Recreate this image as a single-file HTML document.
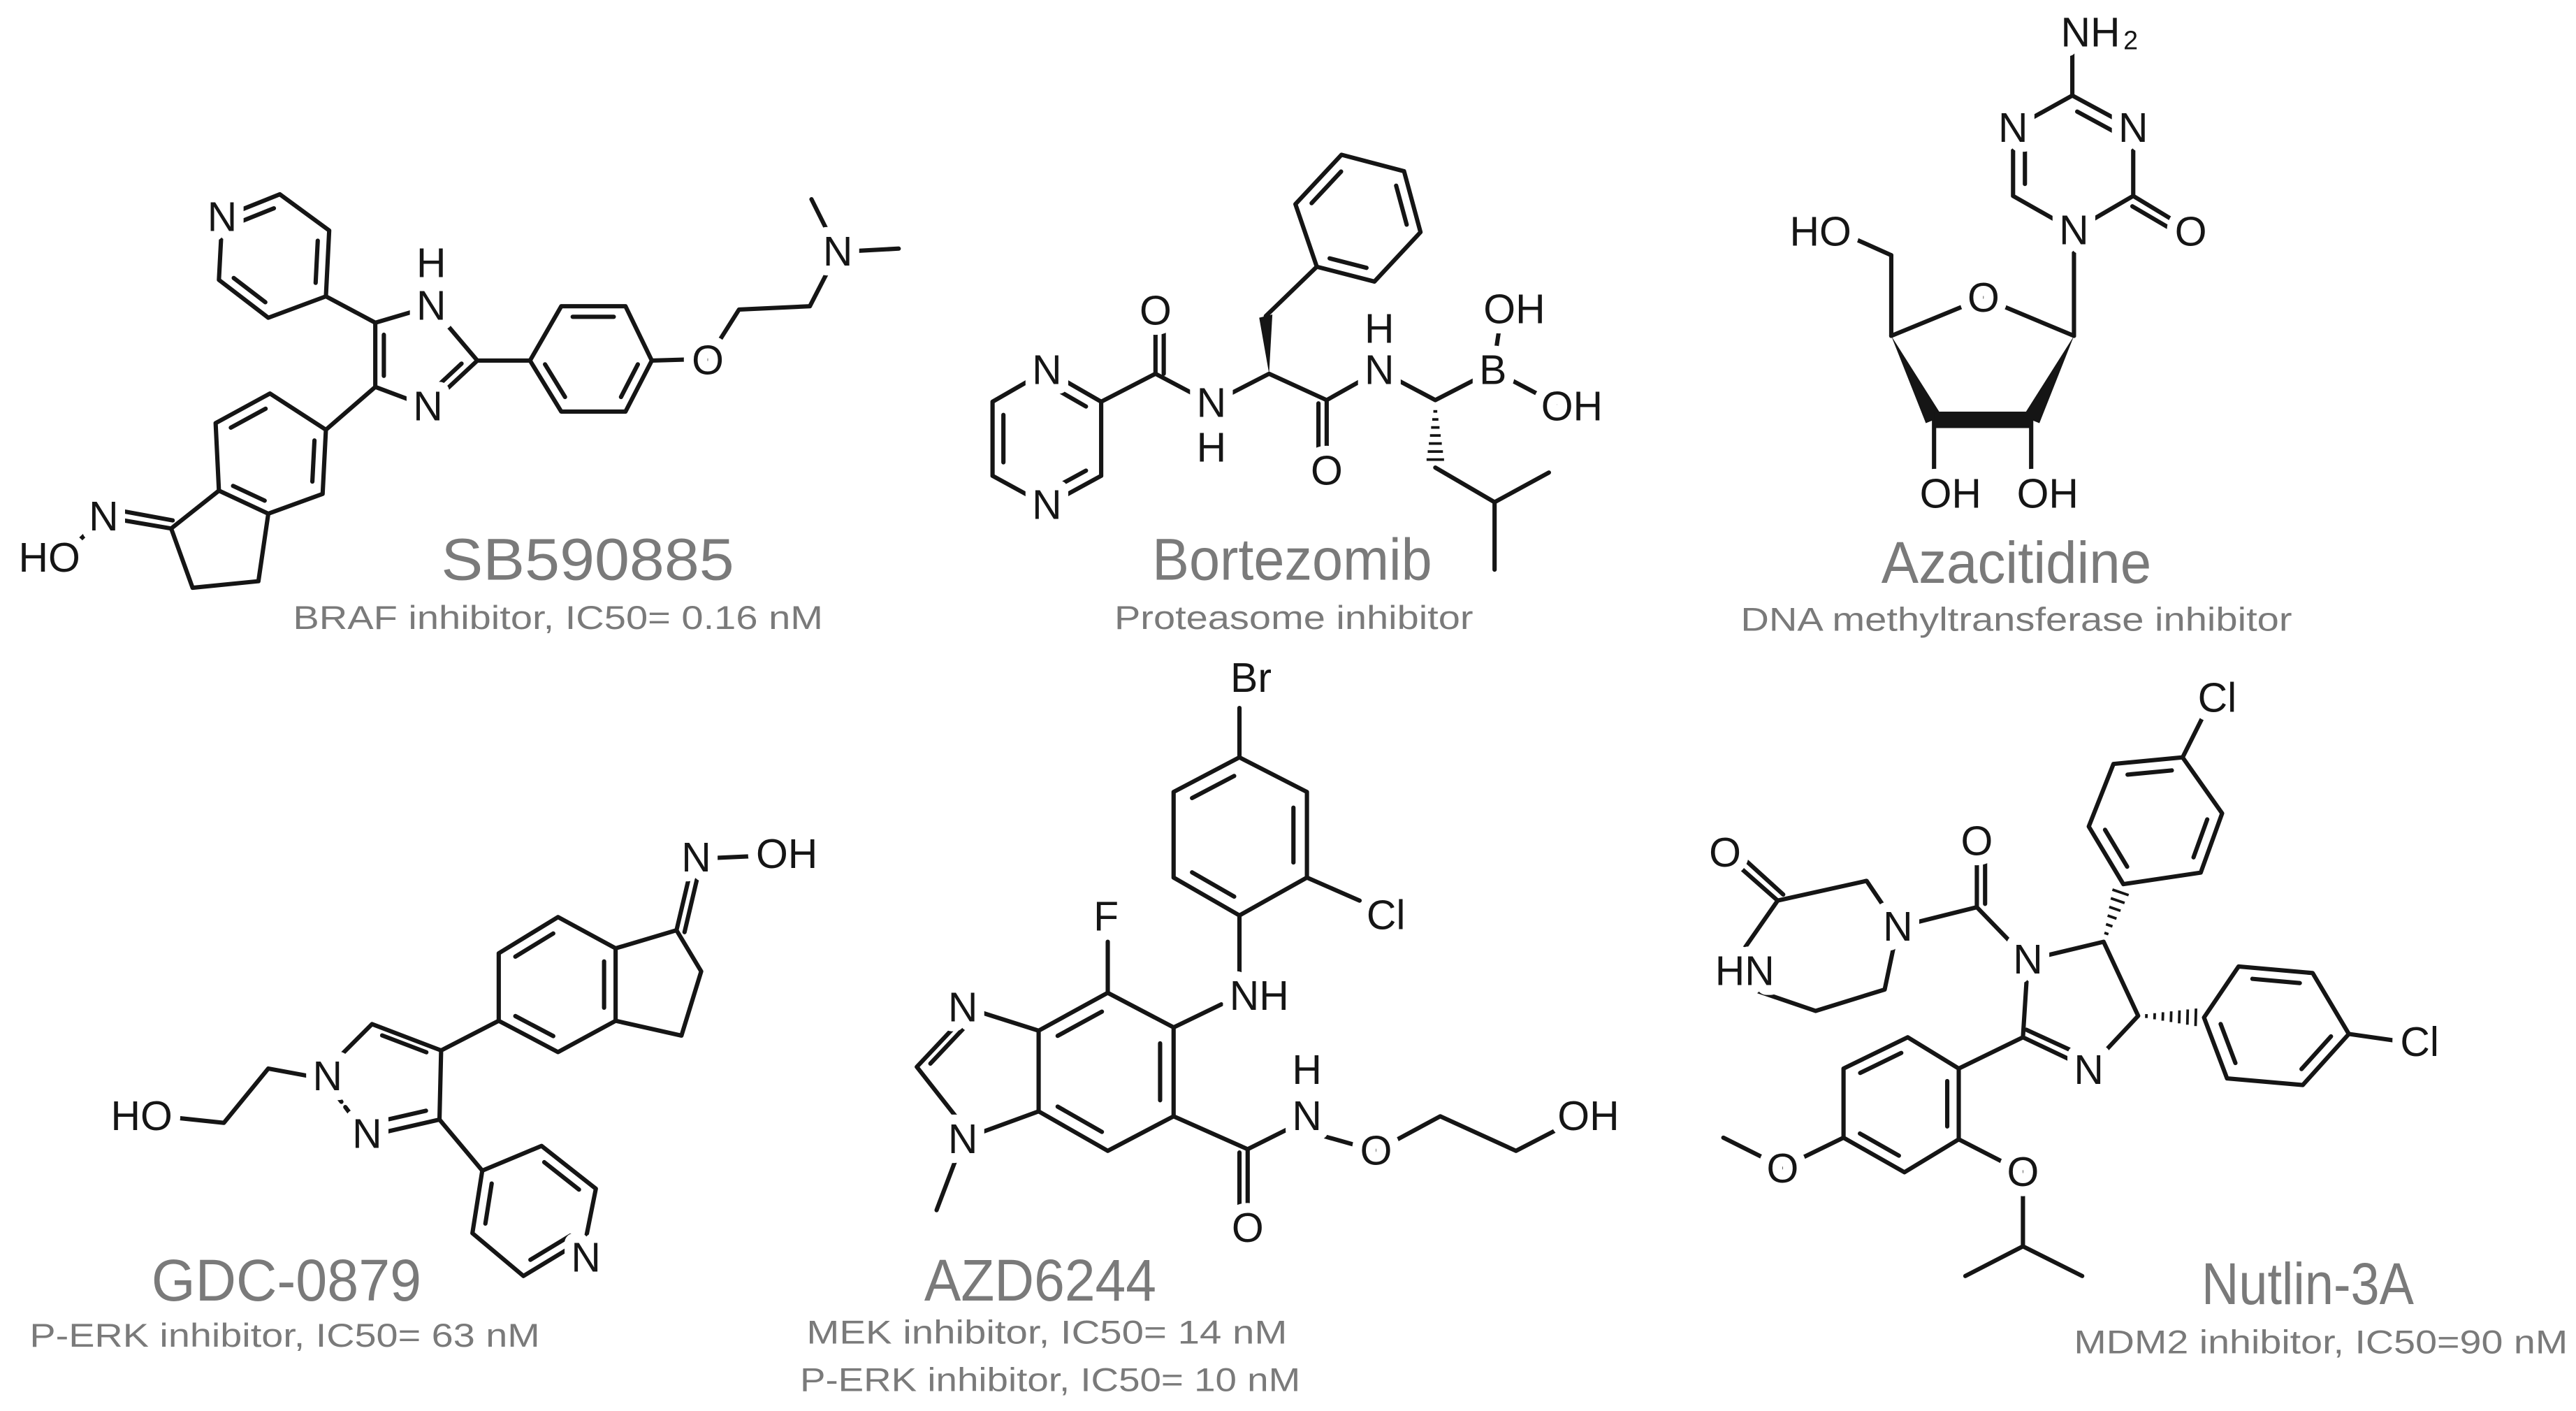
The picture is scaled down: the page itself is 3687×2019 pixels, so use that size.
<!DOCTYPE html>
<html><head><meta charset="utf-8">
<style>
html,body{margin:0;padding:0;background:#fff;}
svg{display:block;}
.b line,.b polyline,.b polygon{stroke:#151515;stroke-width:2.6;fill:none;stroke-linecap:round;stroke-linejoin:round;}
.a{font-family:"Liberation Sans",Arial,sans-serif;font-size:25px;fill:#151515;text-anchor:middle;dominant-baseline:central;stroke:#fff;stroke-width:12px;paint-order:stroke;stroke-linejoin:round;}
.n{font-family:"Liberation Sans",Arial,sans-serif;fill:#7a7a7a;text-anchor:middle;}
.n1{font-size:36px;}
.n2{font-size:20px;}
</style></head>
<body>
<svg id="s" width="3687" height="2019" viewBox="0 0 1565 857" preserveAspectRatio="none" xmlns="http://www.w3.org/2000/svg">
<g class="b" id="bonds">
<polygon points="135,132 170,118 200,140 198,180 163,193 133,170"/>
<line x1="198" y1="180" x2="228" y2="196"/>
<polygon points="228,196 262,186 290,219 260,247 228,235"/>
<line x1="290" y1="219" x2="322" y2="219"/>
<polygon points="322,219 341,186 380,186 396,219 380,250 341,250"/>
<polyline points="396,219 430,218 449,188 492,186 509,153"/>
<line x1="509" y1="153" x2="493" y2="121"/>
<line x1="509" y1="153" x2="546" y2="151"/>
<line x1="228" y1="235" x2="198" y2="261"/>
<polygon points="198,261 164,239 131,257 133,298 163,312 196,300"/>
<polyline points="133,298 104,321 117,357 157,353 163,312"/>
<line x1="104" y1="321" x2="63" y2="314"/>
<line x1="63" y1="314" x2="40" y2="336"/>
<polygon points="636,225 603,244 603,289 636,307 669,289 669,244"/>
<polyline points="669,244 702,227 736,245 771,227 806,243 838,225 872,243 907,225"/>
<line x1="702" y1="227" x2="702" y2="192"/>
<line x1="806" y1="243" x2="806" y2="283"/>
<line x1="838" y1="225" x2="838" y2="202"/>
<line x1="907" y1="225" x2="912" y2="192"/>
<line x1="907" y1="225" x2="945" y2="245"/>
<line x1="769" y1="192" x2="800" y2="162"/>
<polygon points="800,162 787,124 815,94 853,104 863,141 835,171"/>
<polyline points="872,284 908,305 941,287"/>
<line x1="908" y1="305" x2="908" y2="346"/>
<polygon points="1259,58 1296,78 1296,119 1260,140 1223,119 1223,78"/>
<line x1="1259" y1="58" x2="1259" y2="28"/>
<line x1="1296" y1="119" x2="1329" y2="139"/>
<line x1="1260" y1="140" x2="1260" y2="204"/>
<polyline points="1260,204 1205,181 1149,204"/>
<line x1="1149" y1="204" x2="1149" y2="155"/>
<line x1="1149" y1="155" x2="1120" y2="142"/>
<line x1="1175" y1="255" x2="1175" y2="292"/>
<line x1="1234" y1="255" x2="1234" y2="292"/>
<polyline points="108,679 136,682 163,649 190,654"/>
<line x1="205" y1="666" x2="214" y2="678" stroke-dasharray="4 4"/>
<polyline points="200,648 226,622 268,638 267,680 232,688"/>
<line x1="268" y1="638" x2="303" y2="620"/>
<polygon points="303,620 303,579 339,557 374,576 374,620 339,639"/>
<polyline points="374,576 411,565 426,590 414,629 374,620"/>
<line x1="411" y1="565" x2="420" y2="527"/>
<line x1="436" y1="521" x2="458" y2="520"/>
<line x1="267" y1="680" x2="293" y2="711"/>
<polygon points="293,711 329,696 362,722 356,752 318,775 287,749"/>
<polygon points="753,460 794,481 794,533 753,556 713,533 713,481"/>
<line x1="753" y1="460" x2="753" y2="430"/>
<line x1="794" y1="533" x2="826" y2="547"/>
<line x1="753" y1="556" x2="753" y2="594"/>
<line x1="742" y1="610" x2="713" y2="624"/>
<polygon points="673,603 713,624 713,678 673,699 631,675 631,626"/>
<line x1="673" y1="603" x2="673" y2="572"/>
<polyline points="631,626 590,613 557,648 590,690 631,675"/>
<line x1="580" y1="706" x2="569" y2="735"/>
<polyline points="713,678 758,698 794,680"/>
<line x1="758" y1="698" x2="758" y2="740"/>
<polyline points="804,690 836,699 875,678 921,699 950,684"/>
<polyline points="1057,580 1080,547 1134,535 1153,563"/>
<line x1="1080" y1="547" x2="1055" y2="525"/>
<polyline points="1062,600 1103,614 1145,601 1153,563"/>
<polyline points="1153,563 1201,551 1232,583"/>
<line x1="1201" y1="551" x2="1201" y2="516"/>
<polyline points="1232,583 1278,572 1299,617 1269,649 1229,630 1232,583"/>
<line x1="1229" y1="630" x2="1190" y2="649"/>
<polygon points="1190,649 1159,630 1120,649 1120,691 1157,712 1190,692"/>
<line x1="1120" y1="691" x2="1083" y2="709"/>
<line x1="1083" y1="709" x2="1047" y2="691"/>
<line x1="1190" y1="692" x2="1229" y2="712"/>
<line x1="1229" y1="712" x2="1229" y2="757"/>
<line x1="1229" y1="757" x2="1194" y2="775"/>
<line x1="1229" y1="757" x2="1265" y2="775"/>
<polygon points="1326,460 1350,494 1337,530 1290,537 1269,502 1284,464"/>
<line x1="1326" y1="460" x2="1340" y2="432"/>
<polygon points="1339,618 1360,587 1405,591 1427,628 1399,659 1353,655"/>
<line x1="1427" y1="628" x2="1455" y2="632"/>
</g>
<g id="extra" fill="#151515" stroke="none">
<polygon points="771,227 765,193 773,191"/>
<polygon points="1149,204 1170,257 1180,253"/>
<polygon points="1175,250 1234,250 1234,260 1175,260"/>
<polygon points="1260,204 1229,253 1239,257"/>
</g>
<g class="b" id="dbl"></g>
<g id="hash" stroke="#151515" stroke-width="1.6"></g>
<g>
<text class="a" x="135" y="132">N</text>
<text class="a" x="262" y="160">H</text>
<text class="a" x="262" y="186">N</text>
<text class="a" x="260" y="247">N</text>
<text class="a" x="430" y="219">O</text>
<text class="a" x="509" y="153">N</text>
<text class="a" x="63" y="314">N</text>
<text class="a" x="30" y="339">HO</text>
<text class="a" x="636" y="225">N</text>
<text class="a" x="636" y="307">N</text>
<text class="a" x="702" y="189">O</text>
<text class="a" x="736" y="245">N</text>
<text class="a" x="736" y="272">H</text>
<text class="a" x="806" y="286">O</text>
<text class="a" x="838" y="225">N</text>
<text class="a" x="838" y="200">H</text>
<text class="a" x="907" y="225">B</text>
<text class="a" x="920" y="188">OH</text>
<text class="a" x="955" y="247">OH</text>
<text class="a" x="1270" y="20">NH</text>
<text x="1290" y="30" font-family="Liberation Sans, Arial, sans-serif" font-size="16" fill="#151515">2</text>
<text class="a" x="1223" y="78">N</text>
<text class="a" x="1296" y="78">N</text>
<text class="a" x="1260" y="140">N</text>
<text class="a" x="1331" y="141">O</text>
<text class="a" x="1205" y="181">O</text>
<text class="a" x="1106" y="141">HO</text>
<text class="a" x="1185" y="300">OH</text>
<text class="a" x="1244" y="300">OH</text>
<text class="a" x="86" y="678">HO</text>
<text class="a" x="199" y="654">N</text>
<text class="a" x="223" y="689">N</text>
<text class="a" x="423" y="521">N</text>
<text class="a" x="478" y="519">OH</text>
<text class="a" x="356" y="764">N</text>
<text class="a" x="760" y="412">Br</text>
<text class="a" x="842" y="556">Cl</text>
<text class="a" x="765" y="605">NH</text>
<text class="a" x="672" y="557">F</text>
<text class="a" x="585" y="612">N</text>
<text class="a" x="585" y="692">N</text>
<text class="a" x="758" y="746">O</text>
<text class="a" x="794" y="678">N</text>
<text class="a" x="794" y="650">H</text>
<text class="a" x="836" y="699">O</text>
<text class="a" x="965" y="678">OH</text>
<text class="a" x="1048" y="518">O</text>
<text class="a" x="1060" y="590">HN</text>
<text class="a" x="1153" y="563">N</text>
<text class="a" x="1201" y="511">O</text>
<text class="a" x="1232" y="583">N</text>
<text class="a" x="1269" y="650">N</text>
<text class="a" x="1083" y="710">O</text>
<text class="a" x="1229" y="712">O</text>
<text class="a" x="1347" y="424">Cl</text>
<text class="a" x="1470" y="633">Cl</text>
</g>
<text class="n n1" x="357" y="352" textLength="178" lengthAdjust="spacingAndGlyphs">SB590885</text>
<text class="n n2" x="339" y="382" textLength="322" lengthAdjust="spacingAndGlyphs">BRAF inhibitor, IC50= 0.16 nM</text>
<text class="n n1" x="785" y="352" textLength="170" lengthAdjust="spacingAndGlyphs">Bortezomib</text>
<text class="n n2" x="786" y="382" textLength="218" lengthAdjust="spacingAndGlyphs">Proteasome inhibitor</text>
<text class="n n1" x="1225" y="354" textLength="164" lengthAdjust="spacingAndGlyphs">Azacitidine</text>
<text class="n n2" x="1225" y="383" textLength="335" lengthAdjust="spacingAndGlyphs">DNA methyltransferase inhibitor</text>
<text class="n n1" x="174" y="790" textLength="164" lengthAdjust="spacingAndGlyphs">GDC-0879</text>
<text class="n n2" x="173" y="818" textLength="310" lengthAdjust="spacingAndGlyphs">P-ERK inhibitor, IC50= 63 nM</text>
<text class="n n1" x="632" y="790" textLength="141" lengthAdjust="spacingAndGlyphs">AZD6244</text>
<text class="n n2" x="636" y="816" textLength="292" lengthAdjust="spacingAndGlyphs">MEK inhibitor, IC50= 14 nM</text>
<text class="n n2" x="638" y="845" textLength="304" lengthAdjust="spacingAndGlyphs">P-ERK inhibitor, IC50= 10 nM</text>
<text class="n n1" x="1402" y="792" textLength="129" lengthAdjust="spacingAndGlyphs">Nutlin-3A</text>
<text class="n n2" x="1410" y="822" textLength="300" lengthAdjust="spacingAndGlyphs">MDM2 inhibitor, IC50=90 nM</text>
</svg>
<script>
(function(){
var NS="http://www.w3.org/2000/svg";
var g=document.getElementById("dbl"), h=document.getElementById("hash");
function L(p,x1,y1,x2,y2){var l=document.createElementNS(NS,"line");l.setAttribute("x1",x1);l.setAttribute("y1",y1);l.setAttribute("x2",x2);l.setAttribute("y2",y2);p.appendChild(l);}
function inner(x1,y1,x2,y2,cx,cy){var k=0.2;var a1=x1+(cx-x1)*k,b1=y1+(cy-y1)*k,a2=x2+(cx-x2)*k,b2=y2+(cy-y2)*k;var dx=a2-a1,dy=b2-b1;L(g,a1+dx*0.1,b1+dy*0.1,a2-dx*0.1,b2-dy*0.1);}
function par(x1,y1,x2,y2,s){var dx=x2-x1,dy=y2-y1,len=Math.sqrt(dx*dx+dy*dy);var nx=-dy/len*5*s,ny=dx/len*5*s;L(g,x1+nx,y1+ny,x2+nx,y2+ny);}
var I=[
[135,132,170,118,166,155],[200,140,198,180,166,155],[163,193,133,170,166,155],
[228,196,228,235,254,217],[290,219,260,247,254,217],
[341,186,380,186,360,218],[396,219,380,250,360,218],[322,219,341,250,360,218],
[164,239,131,257,164,278],[133,298,163,312,164,278],[196,300,198,261,164,278],
[603,244,603,289,636,266],[636,225,669,244,636,266],[636,307,669,289,636,266],
[787,124,815,94,825,133],[853,104,863,141,825,133],[835,171,800,162,825,133],
[1259,58,1296,78,1259,99],[1223,119,1223,78,1259,99],
[226,622,268,638,240,650],[267,680,232,688,240,650],
[303,579,339,557,339,598],[374,576,374,620,339,598],[339,639,303,620,339,598],
[329,696,362,722,324,735],[356,752,318,775,324,735],[287,749,293,711,324,735],
[713,481,753,460,753,508],[794,481,794,533,753,508],[753,556,713,533,753,508],
[673,603,631,626,672,651],[713,624,713,678,672,651],[673,699,631,675,672,651],
[590,613,557,648,585,652],
[1159,630,1120,649,1155,670],[1120,691,1157,712,1155,670],[1190,692,1190,649,1155,670],
[1284,464,1326,460,1310,498],[1350,494,1337,530,1310,498],[1290,537,1269,502,1310,498],
[1360,587,1405,591,1384,623],[1427,628,1399,659,1384,623],[1353,655,1339,618,1384,623]
];
I.forEach(function(a){inner.apply(null,a);});
par(702,227,702,194,1);par(806,245,806,281,1);par(1298,121,1327,138,1);
par(104,321,66,314,1);par(758,700,758,738,1);par(1080,547,1058,527,1);
par(1201,549,1201,518,1);par(1229,630,1266,647,-1);
par(411,565,419,531,1);
function hashes(x1,y1,x2,y2,w0,w1,n){var dx=x2-x1,dy=y2-y1,len=Math.sqrt(dx*dx+dy*dy),nx=-dy/len,ny=dx/len;for(var i=1;i<=n;i++){var t=i/(n+1),w=w0+(w1-w0)*t;var x=x1+dx*t,y=y1+dy*t;L(h,x-nx*w,y-ny*w,x+nx*w,y+ny*w);}}
hashes(872,245,872,284,0.5,6,7);
hashes(1278,572,1290,537,0.5,6,6);
hashes(1299,617,1339,618,0.5,6,7);
})();
</script>
</body></html>
